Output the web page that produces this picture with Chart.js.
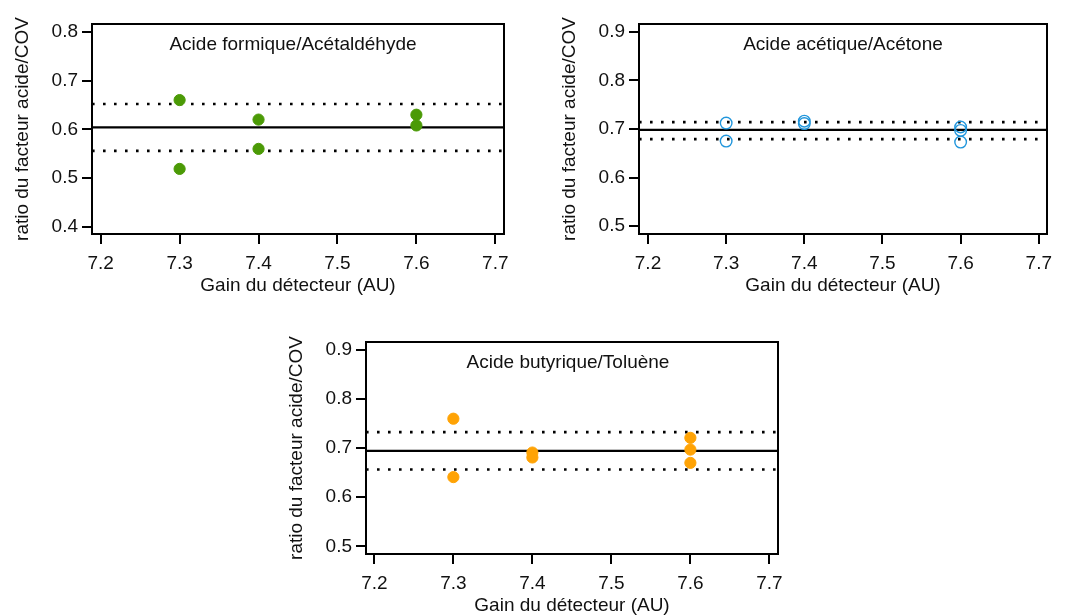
<!DOCTYPE html>
<html><head><meta charset="utf-8">
<script src="https://cdn.jsdelivr.net/npm/chart.js@4"></script>
<style>
html,body{margin:0;padding:0;background:#fff;overflow:hidden;width:1065px;height:615px;}
canvas{position:absolute;}
</style></head><body>
<canvas id="c0" width="524" height="297" style="left:0px;top:0px"></canvas>
<canvas id="c1" width="518" height="297" style="left:547px;top:0px"></canvas>
<canvas id="c2" width="524" height="299" style="left:274px;top:318px"></canvas>
<script>
// ---- data ----
const xTickValues = [7.2, 7.3, 7.4, 7.5, 7.6, 7.7];
const xTickLabels = ['7.2', '7.3', '7.4', '7.5', '7.6', '7.7'];

const formicTitle = 'Acide formique/Acétaldéhyde';
const formicGain  = [7.3, 7.3, 7.4, 7.4, 7.6, 7.6];
const formicRatio = [0.660, 0.519, 0.620, 0.560, 0.630, 0.608];
const formicLevels = [0.556, 0.604, 0.652];          // lower, mean, upper
const formicYTicks = [0.4, 0.5, 0.6, 0.7, 0.8];
const formicYLabels = ['0.4', '0.5', '0.6', '0.7', '0.8'];

const aceticTitle = 'Acide acétique/Acétone';
const aceticGain  = [7.3, 7.3, 7.4, 7.4, 7.6, 7.6, 7.6];
const aceticRatio = [0.712, 0.675, 0.716, 0.711, 0.704, 0.697, 0.673];
const aceticLevels = [0.679, 0.698, 0.714];
const aceticYTicks = [0.5, 0.6, 0.7, 0.8, 0.9];
const aceticYLabels = ['0.5', '0.6', '0.7', '0.8', '0.9'];

const butyricTitle = 'Acide butyrique/Toluène';
const butyricGain  = [7.3, 7.3, 7.4, 7.4, 7.6, 7.6, 7.6];
const butyricRatio = [0.760, 0.641, 0.691, 0.681, 0.721, 0.697, 0.670];
const butyricLevels = [0.6565, 0.6945, 0.7327];
const butyricYTicks = [0.5, 0.6, 0.7, 0.8, 0.9];
const butyricYLabels = ['0.5', '0.6', '0.7', '0.8', '0.9'];

const xAxisTitle = 'Gain du détecteur (AU)';
const yAxisTitle = 'ratio du facteur acide/COV';

// ---- rendering ----
const FONT = '"Liberation Sans", Arial, Helvetica, sans-serif';
const FS = 19;
const TXT = '#111';
Chart.defaults.font.family = FONT;
Chart.defaults.animation = false;

const frame = {
  id: 'frame',
  afterDatasetsDraw(chart, args, opts) {
    const {ctx, chartArea: a} = chart;
    ctx.save();
    ctx.strokeStyle = '#000';
    ctx.lineWidth = 2;
    ctx.strokeRect(a.left, a.top, a.right - a.left, a.bottom - a.top);
    ctx.fillStyle = TXT;
    ctx.font = FS + 'px ' + FONT;
    ctx.textAlign = 'center';
    ctx.textBaseline = 'middle';
    ctx.fillText(opts.text, (a.left + a.right) / 2 + (opts.dx || 0), a.top + 21);
    ctx.restore();
  }
};

function makeChart(id, p) {
  const pts = p.gain.map((x, i) => ({x: x, y: p.ratio[i]}));
  const hline = (v) => [{x: p.xMin, y: v}, {x: p.xMax, y: v}];
  return new Chart(document.getElementById(id), {
    type: 'scatter',
    data: {
      datasets: [
        {data: pts, showLine: false, pointRadius: p.r, pointHoverRadius: p.r,
         backgroundColor: p.fill, borderColor: p.stroke, borderWidth: p.bw},
        {type: 'line', data: hline(p.levels[1]), showLine: true, borderColor: '#000',
         borderWidth: 2.3, pointRadius: 0, fill: false},
        {type: 'line', data: hline(p.levels[0]), showLine: true, borderColor: '#000',
         borderWidth: 2.6, borderDash: [2.6, 8.4], borderCapStyle: 'butt', pointRadius: 0, fill: false},
        {type: 'line', data: hline(p.levels[2]), showLine: true, borderColor: '#000',
         borderWidth: 2.6, borderDash: [2.6, 8.4], borderCapStyle: 'butt', pointRadius: 0, fill: false}
      ]
    },
    options: {
      responsive: false,
      events: [],
      layout: {padding: {left: 0, top: 24, right: p.padR, bottom: 0}},
      plugins: {legend: {display: false}, tooltip: {enabled: false}, frame: {text: p.title, dx: p.dx}},
      scales: {
        x: {
          type: 'linear', min: p.xMin, max: p.xMax,
          afterBuildTicks: s => { s.ticks = xTickValues.map(v => ({value: v})); },
          afterFit: s => { s.height = 63; },
          grid: {display: true, drawOnChartArea: false, drawTicks: true, tickLength: 10, color: '#000', lineWidth: 2},
          border: {display: false},
          ticks: {padding: 8, color: TXT, font: {size: FS}, maxRotation: 0, autoSkip: false,
                  callback: (v, i) => xTickLabels[i]},
          title: {display: true, text: xAxisTitle, color: TXT, font: {size: FS}, padding: {top: 0, bottom: 0}}
        },
        y: {
          type: 'linear', min: p.yMin, max: p.yMax,
          afterBuildTicks: s => { s.ticks = p.yTicks.map(v => ({value: v})); },
          afterFit: s => { s.width = 92; },
          grid: {display: true, drawOnChartArea: false, drawTicks: true, tickLength: 10, color: '#000', lineWidth: 2},
          border: {display: false},
          ticks: {padding: 4, color: TXT, font: {size: FS}, autoSkip: false,
                  callback: (v, i) => p.yLabels[i]},
          title: {display: true, text: yAxisTitle, color: TXT, font: {size: FS}, padding: {top: 11, bottom: 0}}
        }
      }
    },
    plugins: [frame]
  });
}

makeChart('c0', {title: formicTitle, gain: formicGain, ratio: formicRatio, levels: formicLevels,
  yTicks: formicYTicks, yLabels: formicYLabels, yMin: 0.3857, yMax: 0.8158, xMin: 7.189, xMax: 7.711,
  fill: '#4b9a06', stroke: '#4b9a06', bw: 1, r: 5.6, padR: 20, dx: -5});
makeChart('c1', {title: aceticTitle, gain: aceticGain, ratio: aceticRatio, levels: aceticLevels,
  yTicks: aceticYTicks, yLabels: aceticYLabels, yMin: 0.484, yMax: 0.9158, xMin: 7.1885, xMax: 7.7105,
  fill: 'rgba(0,0,0,0)', stroke: '#2196dc', bw: 1.4, r: 5.8, padR: 18, dx: 0});
makeChart('c2', {title: butyricTitle, gain: butyricGain, ratio: butyricRatio, levels: butyricLevels,
  yTicks: butyricYTicks, yLabels: butyricYLabels, yMin: 0.4843, yMax: 0.9163, xMin: 7.1894, xMax: 7.7109,
  fill: '#ffa305', stroke: '#ffa305', bw: 1, r: 5.6, padR: 20, dx: -4});
</script>
</body></html>
